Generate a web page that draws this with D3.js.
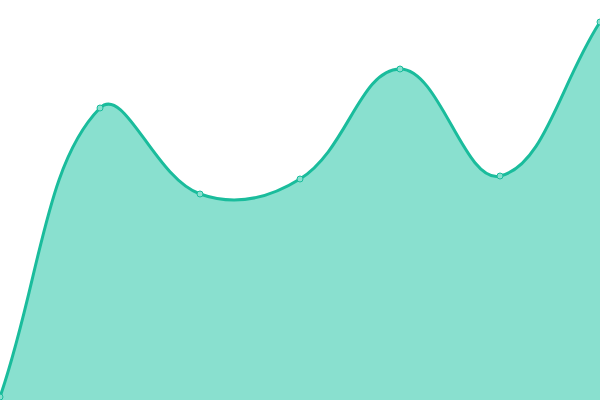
<!DOCTYPE html>
<html>
<head>
<meta charset="utf-8">
<script src="https://cdn.jsdelivr.net/npm/d3@7"></script>
<style>
  body { margin: 0; background: #fff; }
</style>
</head>
<body>
<div id="chart"></div>
<script>
// values
var xs = [0, 1, 2, 3, 4, 5, 6];
var values = [3, 292, 206, 221, 331, 224, 378];

var width = 600, height = 400;
var tension = 0.4;

var svg = d3.select("#chart").append("svg")
            .attr("width", width)
            .attr("height", height);

var x = d3.scaleLinear().domain([0, 6]).range([0, width]);
var y = d3.scaleLinear().domain([0, 400]).range([height, 0]);

var data = xs.map(function (d, i) { return { x: d, v: values[i] }; });

// spline with control points scaled by the distance to the neighbours
function curveSpline(context) {
  return {
    areaStart: function () { this._line = 0; },
    areaEnd: function () { this._line = NaN; },
    lineStart: function () { this._pts = []; },
    point: function (px, py) { this._pts.push([+px, +py]); },
    lineEnd: function () {
      var p = this._pts, n = p.length;
      if (n) {
        if (this._line) context.lineTo(p[0][0], p[0][1]);
        else context.moveTo(p[0][0], p[0][1]);
      }
      if (n === 2) context.lineTo(p[1][0], p[1][1]);
      if (n > 2) {
        var cps = p.map(function (cur, i) {
          var prev = p[Math.max(i - 1, 0)], next = p[Math.min(i + 1, n - 1)];
          var d01 = Math.hypot(cur[0] - prev[0], cur[1] - prev[1]);
          var d12 = Math.hypot(next[0] - cur[0], next[1] - cur[1]);
          var s01 = d01 / (d01 + d12) || 0, s12 = d12 / (d01 + d12) || 0;
          var fa = tension * s01, fb = tension * s12;
          var cp = function (vx, vy) {
            return [Math.max(0, Math.min(width, vx)), Math.max(0, Math.min(height, vy))];
          };
          return {
            prev: cp(cur[0] - fa * (next[0] - prev[0]), cur[1] - fa * (next[1] - prev[1])),
            next: cp(cur[0] + fb * (next[0] - prev[0]), cur[1] + fb * (next[1] - prev[1]))
          };
        });
        for (var i = 1; i < n; i++) {
          context.bezierCurveTo(cps[i - 1].next[0], cps[i - 1].next[1],
                                cps[i].prev[0], cps[i].prev[1],
                                p[i][0], p[i][1]);
        }
      }
      if (this._line || (this._line !== 0 && n === 1)) context.closePath();
      this._line = 1 - this._line;
    }
  };
}

var area = d3.area()
             .curve(curveSpline)
             .x(function (d) { return x(d.x); })
             .y0(height)
             .y1(function (d) { return y(d.v); });

var line = d3.line()
             .curve(curveSpline)
             .x(function (d) { return x(d.x); })
             .y(function (d) { return y(d.v); });

svg.append("path")
   .datum(data)
   .attr("d", area)
   .attr("fill", "#89e0cf");

svg.append("path")
   .datum(data)
   .attr("d", line)
   .attr("fill", "none")
   .attr("stroke", "#1abc9c")
   .attr("stroke-width", 3);

svg.selectAll("circle")
   .data(data)
   .enter().append("circle")
   .attr("cx", function (d) { return x(d.x); })
   .attr("cy", function (d) { return y(d.v); })
   .attr("r", 3)
   .attr("fill", "#89e0cf")
   .attr("stroke", "#1abc9c")
   .attr("stroke-width", 1);
</script>
</body>
</html>
